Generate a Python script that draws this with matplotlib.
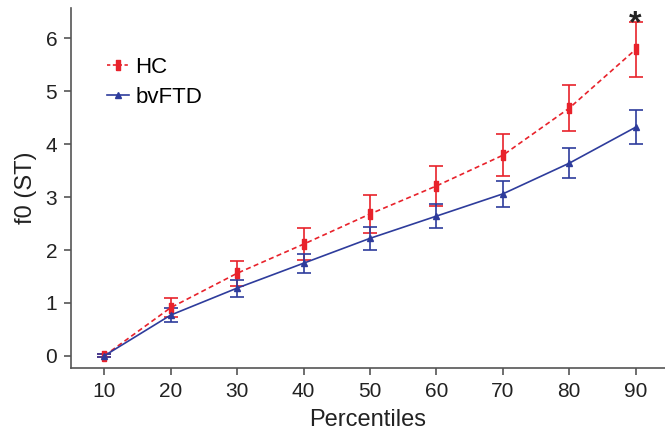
import matplotlib
matplotlib.use("Agg")
import matplotlib.pyplot as plt
from matplotlib.lines import Line2D

plt.rcParams['font.family'] = ['Liberation Sans', 'DejaVu Sans']

percentiles = [10, 20, 30, 40, 50, 60, 70, 80, 90]
hc_mean = [0.0, 0.91, 1.56, 2.11, 2.68, 3.21, 3.79, 4.68, 5.79]
hc_err = [0.03, 0.18, 0.24, 0.30, 0.35, 0.38, 0.40, 0.44, 0.52]
ftd_mean = [0.0, 0.77, 1.28, 1.75, 2.22, 2.64, 3.06, 3.64, 4.32]
ftd_err = [0.03, 0.13, 0.16, 0.18, 0.22, 0.23, 0.24, 0.28, 0.32]

red = '#e8222b'
blue = '#2e3c9c'

fig = plt.figure(figsize=(6.65, 4.41), dpi=100)
ax = fig.add_axes([0.1068, 0.1655, 0.893, 0.816])

rect = [(-0.4, -1), (0.4, -1), (0.4, 1), (-0.4, 1), (-0.4, -1)]
ax.errorbar(percentiles, hc_mean, yerr=hc_err, color=red, ls=(0, (3, 2)), lw=1.2,
            marker=rect, ms=6.5, capsize=5, elinewidth=1.2, capthick=1.2)
ax.errorbar(percentiles, ftd_mean, yerr=ftd_err, color=blue, ls='-', lw=1.2,
            marker='^', ms=5, capsize=5, elinewidth=1.2, capthick=1.2)

ax.text(90, 6.12, '*', ha='center', va='baseline', fontsize=23, fontweight='bold', color='#222222')

ax.set_xlim(5, 94.4)
ax.set_ylim(-0.23, 6.57)
ax.set_xticks(percentiles)
ax.set_yticks(range(0, 7))
ax.spines['top'].set_visible(False)
ax.spines['right'].set_visible(False)
for s in ['left', 'bottom']:
    ax.spines[s].set_color('#555555')
    ax.spines[s].set_linewidth(1.2)
ax.tick_params(direction='out', length=5, width=1.2, color='#555555', labelsize=15, labelcolor='#222222', pad=5)
ax.set_xlabel('Percentiles', fontsize=17, color='#222222', labelpad=6)
ax.set_ylabel('f0 (ST)', fontsize=17, color='#222222', labelpad=6)

handles = [Line2D([], [], color=red, ls=(0, (2, 1.5)), lw=1.2, marker=rect, ms=6.5),
           Line2D([], [], color=blue, ls='-', lw=1.2, marker='^', ms=5)]
ax.legend(handles, ['HC', 'bvFTD'], loc='upper left', bbox_to_anchor=(0.06, 0.865), frameon=False,
          fontsize=16, handlelength=1.0, handletextpad=0.3, labelspacing=0.4, borderpad=0,
          borderaxespad=0)
fig.savefig('out.png', dpi=100)
